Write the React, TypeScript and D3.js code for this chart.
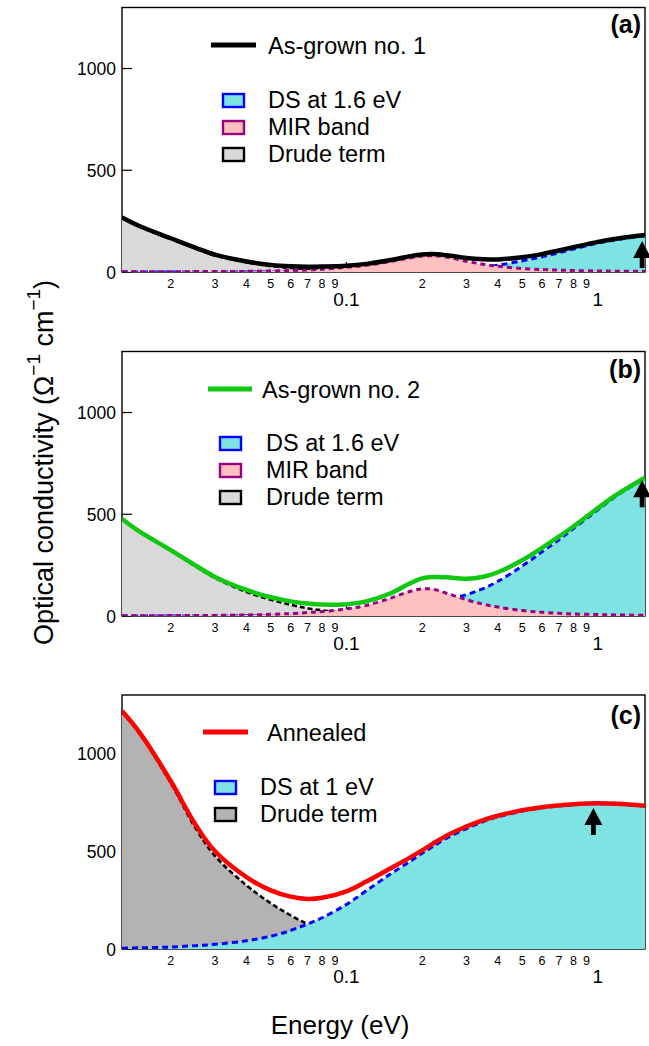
import React from 'react';
import * as d3 from 'd3';

// ---------- data ----------
const energy = [0.0128, 0.015, 0.02, 0.025, 0.03, 0.04, 0.05, 0.06, 0.07, 0.08, 0.1, 0.12, 0.15, 0.18, 0.2, 0.22, 0.25, 0.3, 0.35, 0.4, 0.5, 0.6, 0.7, 0.8, 1.0, 1.2, 1.54];

const totalA = [268, 226, 166, 120, 85, 52, 35, 28, 26, 27, 31, 40, 59, 78, 86, 88, 82, 69, 63, 62, 73, 88, 106, 122, 148, 165, 182];
const drudeA = [265, 224, 162, 117, 81, 48, 29, 20, 15, 11, 7, 5, 3, 2, 2, 1, 1, 1, 0, 0, 0, 0, 0, 0, 0, 0, 0];
const mirA = [1, 1, 1, 2, 2, 3, 5, 7, 10, 14, 23, 33, 52, 70, 78, 80, 74, 53, 38, 28, 17, 12, 9, 7, 5, 4, 3];
const dsA = [0, 0, 0, 0, 0, 0, 0, 0, 1, 1, 1, 2, 3, 5, 6, 7, 9, 15, 23, 33, 55, 75, 95, 113, 142, 160, 178];

const totalB = [477, 416, 324, 250, 192, 128, 92, 72, 61, 56, 58, 72, 112, 162, 185, 192, 190, 183, 193, 215, 274, 335, 390, 440, 530, 600, 680];
const drudeB = [477, 414, 322, 245, 187, 118, 80, 55, 38, 28, 16, 10, 6, 4, 3, 2, 2, 1, 1, 0, 0, 0, 0, 0, 0, 0, 0];
const mirB = [1, 1, 2, 2, 3, 5, 8, 12, 17, 22, 35, 52, 88, 122, 133, 132, 112, 80, 58, 44, 27, 18, 13, 10, 7, 5, 4];
const dsB = [0, 0, 0, 0, 0, 1, 2, 3, 4, 5, 8, 12, 20, 32, 45, 58, 78, 105, 135, 170, 245, 315, 375, 430, 522, 595, 676];

const totalC = [1218, 1110, 860, 640, 500, 368, 300, 268, 256, 262, 295, 345, 413, 470, 505, 538, 580, 627, 660, 682, 710, 726, 735, 741, 746, 743, 733];
const drudeC = [1214, 1104, 850, 622, 476, 326, 234, 172, 128, 100, 65, 45, 28, 20, 16, 13, 10, 7, 5, 4, 3, 2, 2, 1, 1, 1, 0];
const dsC = [4, 6, 10, 17, 24, 42, 65, 95, 128, 160, 228, 298, 385, 450, 490, 523, 567, 616, 652, 676, 706, 723, 732, 739, 744, 741, 732];

// arrows: [energy, tip value]
const arrowA = [1.5, 152];
const arrowB = [1.5, 667];
const arrowC = [0.96, 722];

const yTickValues = [0, 500, 1000];
const majorXTicks = [0.1, 1];
const minorXTicks = [0.02, 0.03, 0.04, 0.05, 0.06, 0.07, 0.08, 0.09, 0.2, 0.3, 0.4, 0.5, 0.6, 0.7, 0.8, 0.9];
const majorXLabels = ['0.1', '1'];

const legendA = ['As-grown no. 1', 'DS at 1.6 eV', 'MIR band', 'Drude term'];
const legendB = ['As-grown no. 2', 'DS at 1.6 eV', 'MIR band', 'Drude term'];
const legendC = ['Annealed', 'DS at 1 eV', 'Drude term'];

// ---------- style ----------
const FONT = '"Liberation Sans", Arial, Helvetica, sans-serif';
const CYAN = '#7fe3e3';
const PINK = '#ffc0c0';
const GRAY_L = '#d9d9d9';
const GRAY_D = '#b3b3b3';
const BLUE = '#0000ff';
const PURPLE = '#990080';

const X0 = 122;
const X1 = 645;
const xScale = d3.scaleLog().domain([0.0128, 1.54]).range([X0, X1]);

type Series = { values: number[]; fill: string; stroke: string; dash: string; width: number; label: string };

type PanelDef = {
  id: string;
  top: number;
  bottom: number;
  total: number[];
  totalColor: string;
  series: Series[];
  legendSeries: Series[];
  lineLabel: string;
  arrow: number[];
  legend: { lx1: number; lx2: number; ly: number; ltx: number; bx: number; btx: number; rows: number[] };
  tagY: number;
};

const mk = (values: number[], fill: string, stroke: string, label: string, dash = '6,4', width = 3): Series => ({ values, fill, stroke, dash, width, label });

const sA = { drude: mk(drudeA, GRAY_L, '#000', legendA[3], '5,3', 2.6), ds: mk(dsA, CYAN, BLUE, legendA[1]), mir: mk(mirA, PINK, PURPLE, legendA[2], '5,4') };
const sB = { drude: mk(drudeB, GRAY_L, '#000', legendB[3], '5,3', 2.6), ds: mk(dsB, CYAN, BLUE, legendB[1]), mir: mk(mirB, PINK, PURPLE, legendB[2], '5,4') };
const sC = { drude: mk(drudeC, GRAY_D, '#000', legendC[2], '5,3', 2.6), ds: mk(dsC, CYAN, BLUE, legendC[1]) };

const panels: PanelDef[] = [
  {
    id: 'a', top: 7.5, bottom: 272, total: totalA, totalColor: '#000',
    series: [sA.drude, sA.ds, sA.mir], legendSeries: [sA.ds, sA.mir, sA.drude],
    lineLabel: legendA[0], arrow: arrowA,
    legend: { lx1: 211, lx2: 256, ly: 45, ltx: 268, bx: 223, btx: 268, rows: [108, 135, 162] },
    tagY: 33,
  },
  {
    id: 'b', top: 351.5, bottom: 616, total: totalB, totalColor: '#11c811',
    series: [sB.drude, sB.ds, sB.mir], legendSeries: [sB.ds, sB.mir, sB.drude],
    lineLabel: legendB[0], arrow: arrowB,
    legend: { lx1: 208, lx2: 252, ly: 389, ltx: 262, bx: 220, btx: 266, rows: [451, 478, 505] },
    tagY: 378,
  },
  {
    id: 'c', top: 695, bottom: 949, total: totalC, totalColor: '#ff0000',
    series: [sC.drude, sC.ds], legendSeries: [sC.ds, sC.drude],
    lineLabel: legendC[0], arrow: arrowC,
    legend: { lx1: 203, lx2: 248, ly: 732, ltx: 267, bx: 215, btx: 260, rows: [795, 822] },
    tagY: 724,
  },
];

function Panel({ p }: { p: PanelDef }) {
  const y = d3.scaleLinear().domain([0, 1300]).range([p.bottom, p.top]);
  const curve = d3.curveCatmullRom.alpha(0.5);
  const area = d3
    .area<number>()
    .x((_, i) => xScale(energy[i]))
    .y0(y(0))
    .y1((v) => y(v))
    .curve(curve);
  const line = d3
    .line<number>()
    .x((_, i) => xScale(energy[i]))
    .y((v) => y(v))
    .curve(curve);
  const clipId = `clip-${p.id}`;
  const ax = xScale(p.arrow[0]);
  const ay = y(p.arrow[1]);
  return (
    <g>
      <defs>
        <clipPath id={clipId}>
          <rect x={X0} y={p.top} width={X1 - X0} height={p.bottom - p.top} />
        </clipPath>
      </defs>
      <rect x={X0} y={p.top} width={X1 - X0} height={p.bottom - p.top} fill="none" stroke="#000" strokeWidth={1.4} />
      {yTickValues.map((t) => (
        <g key={`yt${t}`}>
          <line x1={X0} x2={X0 + 10} y1={y(t)} y2={y(t)} stroke="#000" strokeWidth={1.2} />
          <text x={116} y={y(t) + 6.5} textAnchor="end" fontSize={17.5} fontFamily={FONT}>
            {t}
          </text>
        </g>
      ))}
      {majorXTicks.map((t, i) => (
        <g key={`xt${t}`}>
          <line x1={xScale(t)} x2={xScale(t)} y1={p.bottom} y2={p.bottom - 10} stroke="#000" strokeWidth={1.2} />
          <text x={xScale(t)} y={p.bottom + 34} textAnchor="middle" fontSize={19} fontFamily={FONT}>
            {majorXLabels[i]}
          </text>
        </g>
      ))}
      {minorXTicks.map((t) => (
        <text key={`mx${t}`} x={xScale(t)} y={p.bottom + 16} textAnchor="middle" fontSize={12.5} fontFamily={FONT}>
          {Math.round(t / Math.pow(10, Math.floor(Math.log10(t) + 1e-9)))}
        </text>
      ))}
      <g clipPath={`url(#${clipId})`}>
        {p.series.map((s, i) => (
          <g key={`s${i}`}>
            <path d={area(s.values) || ''} fill={s.fill} stroke="none" />
            <path d={line(s.values) || ''} fill="none" stroke={s.stroke} strokeWidth={s.width} strokeDasharray={s.dash} />
          </g>
        ))}
        <path d={line(p.total) || ''} fill="none" stroke={p.totalColor} strokeWidth={4.5} />
      </g>
      <g>
        <rect x={ax - 2.4} y={ay + 15} width={4.8} height={12} fill="#000" />
        <path d={`M${ax},${ay} L${ax - 9},${ay + 17} L${ax + 9},${ay + 17} Z`} fill="#000" />
      </g>
      <text x={641} y={p.tagY} textAnchor="end" fontSize={25} fontWeight="bold" fontFamily={FONT}>
        ({p.id})
      </text>
      <line x1={p.legend.lx1} x2={p.legend.lx2} y1={p.legend.ly} y2={p.legend.ly} stroke={p.totalColor} strokeWidth={5} />
      <text x={p.legend.ltx} y={p.legend.ly + 8.5} fontSize={23.5} fontFamily={FONT}>
        {p.lineLabel}
      </text>
      {p.legendSeries.map((s, i) => (
        <g key={`lg${i}`}>
          <rect x={p.legend.bx} y={p.legend.rows[i] - 14} width={21} height={13} fill={s.fill} stroke={s.stroke} strokeWidth={2.4} />
          <text x={p.legend.btx} y={p.legend.rows[i]} fontSize={23.5} fontFamily={FONT}>
            {s.label}
          </text>
        </g>
      ))}
    </g>
  );
}

export default function App() {
  return (
    <svg width={649} height={1046} viewBox="0 0 649 1046" style={{ position: 'absolute', left: 0, top: 0, background: '#fff' }}>
      <rect x={0} y={0} width={649} height={1046} fill="#fff" />
      {panels.map((p) => (
        <Panel key={p.id} p={p} />
      ))}
      <text x={340} y={1034} textAnchor="middle" fontSize={26} fontFamily={FONT}>
        Energy (eV)
      </text>
      <text transform="translate(53,645) rotate(-90)" textAnchor="start" fontSize={27} fontFamily={FONT}>
        Optical conductivity (Ω
        <tspan dy={-13} fontSize={19}>−1</tspan>
        <tspan dy={13}> cm</tspan>
        <tspan dy={-13} fontSize={19}>−1</tspan>
        <tspan dy={13}>)</tspan>
      </text>
    </svg>
  );
}
